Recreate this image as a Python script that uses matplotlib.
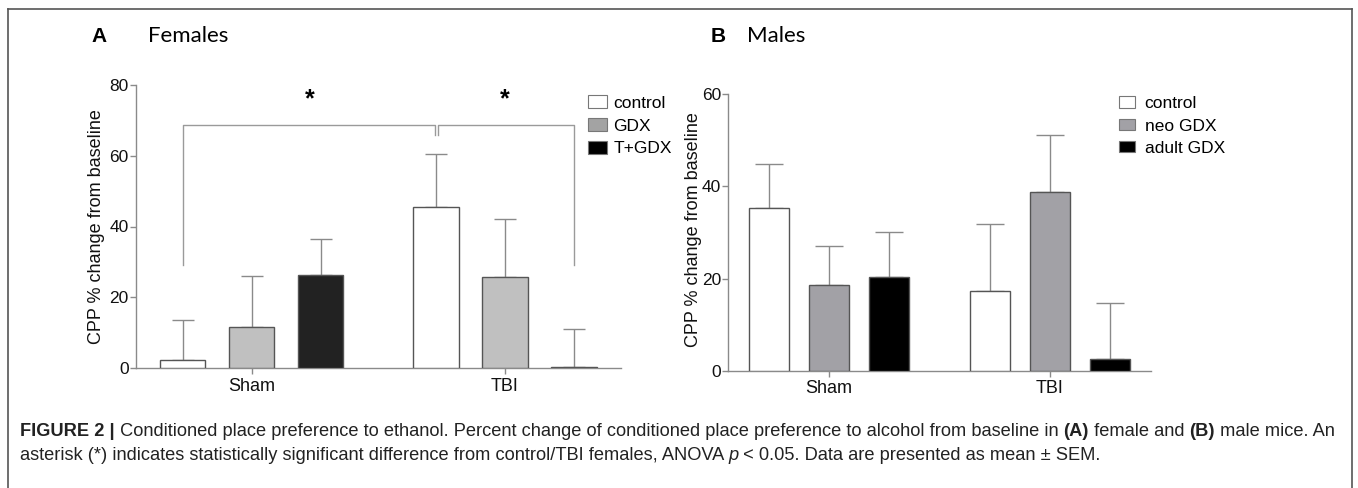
import numpy as np
import matplotlib
matplotlib.use('Agg')
import matplotlib.pyplot as plt
from matplotlib.patches import Patch
from matplotlib.lines import Line2D

plt.rcParams['font.family'] = ['Liberation Sans', 'DejaVu Sans']

# ---------------------------------------------------------------- data
groups = ['Sham', 'TBI']

fem_names = ['control', 'GDX', 'T+GDX']
fem_mean  = [[2.4, 45.6], [11.7, 25.6], [26.2, 0.2]]
fem_sem   = [[11.1, 14.9], [14.3, 16.4], [10.4, 10.9]]

mal_names = ['control', 'neo GDX', 'adult GDX']
mal_mean  = [[35.4, 17.2], [18.7, 38.7], [20.3, 2.5]]
mal_sem   = [[9.4, 14.6], [8.3, 12.4], [9.9, 12.1]]

fem_bar_col = ['white', '#c0c0c0', '#222222']
fem_leg_col = ['white', '#a3a3a3', '#000000']
mal_bar_col = ['white', '#a2a1a6', '#000000']

GAP   = 3.67
WIDTH = 0.66
AXCOL = '#8a8a8a'

# ---------------------------------------------------------------- figure
fig01 = plt.figure(figsize=(13.58, 4.88), dpi=100)

def px(x, y):
  return x/1358.0, 1.0 - y/488.0

def style_ax(ax, ymax):
  for s in ['top', 'right']:
    ax.spines[s].set_visible(False)
  for s in ['left', 'bottom']:
    ax.spines[s].set_color(AXCOL)
    ax.spines[s].set_linewidth(1.0)
  ax.set_xlim(-0.68, 6.35)
  ax.set_ylim(0, ymax)
  ax.set_yticks(np.arange(0, ymax+1, 20))
  ax.set_xticks([1, 1+GAP])
  ax.set_xticklabels(groups, fontsize=13)
  ax.tick_params(axis='y', colors=AXCOL, labelcolor='#111111', labelsize=12.5,
                 length=4, width=1, pad=1)
  ax.tick_params(axis='x', colors=AXCOL, labelcolor='#111111',
                 length=4, width=1, pad=3)
  ax.set_ylabel('CPP % change from baseline', fontsize=13, color='#111111')

def draw_bars(ax, means, sems, cols, capsz):
  for k in range(3):
    xpos = np.array([k, k+GAP])
    ax.bar(xpos, means[k], width=WIDTH, color=cols[k], edgecolor='#555555',
           linewidth=1.0, zorder=3)
    ax.errorbar(xpos, means[k], yerr=[np.zeros(2), sems[k]], fmt='none',
                ecolor='#8a8a8a', elinewidth=1.0, capsize=capsz,
                capthick=1.0, zorder=2)

# Panel A
l, b = px(135.7, 368)
r, t = px(621, 85)
axs01 = fig01.add_axes([l, b, r-l, t-b])
draw_bars(axs01, fem_mean, fem_sem, fem_bar_col, 8)
style_ax(axs01, 80)
axs01.yaxis.set_label_coords(-0.064, 0.50)

# significance brackets
ybr, yleg, ymid = 68.8, 29.1, 66.0
xl, xm, xr = 0.0, GAP, 2+GAP
axs01.plot([xl, xl, xm-0.02, xm-0.02], [yleg, ybr, ybr, ymid],
           color='#9a9a9a', lw=1.0, clip_on=False)
axs01.plot([xm+0.03, xm+0.03, xr, xr], [ymid, ybr, ybr, yleg],
           color='#9a9a9a', lw=1.0, clip_on=False)
axs01.text((xl+xm)/2, 76.0, '*', ha='center', va='center', fontsize=18,
           fontweight='bold')
axs01.text((xm+xr)/2, 76.0, '*', ha='center', va='center', fontsize=18,
           fontweight='bold')

hnd = [Patch(facecolor=fem_leg_col[k], edgecolor='#777777', lw=0.8,
             label=fem_names[k]) for k in range(3)]
axs01.legend(handles=hnd, loc='upper left', bbox_to_anchor=(0.931, 0.963),
             frameon=False, fontsize=12.5, handlelength=1.1, handleheight=0.75,
             handletextpad=0.38, labelspacing=0.42, borderaxespad=0,
             borderpad=0)

# Panel B
l, b = px(728, 370.7)
r, t = px(1151, 94.3)
axs02 = fig01.add_axes([l, b, r-l, t-b])
draw_bars(axs02, mal_mean, mal_sem, mal_bar_col, 10)
style_ax(axs02, 60)
axs02.yaxis.set_label_coords(-0.062, 0.51)

hnd = [Patch(facecolor=(fem_leg_col[0] if k == 0 else mal_bar_col[k]),
             edgecolor='#777777', lw=0.8, label=mal_names[k]) for k in range(3)]
axs02.legend(handles=hnd, loc='upper left', bbox_to_anchor=(0.924, 0.993),
             frameon=False, fontsize=12.5, handlelength=0.92, handleheight=0.63,
             handletextpad=0.57, labelspacing=0.42, borderaxespad=0,
             borderpad=0)

# Panel titles
fig01.text(*px(99, 37), 'A', fontsize=15, fontweight='bold', ha='center',
           va='center')
fig01.text(*px(148, 36), 'Females', fontsize=16, family=['Lato', 'DejaVu Sans'],
           ha='left', va='center')
fig01.text(*px(718, 37), 'B', fontsize=15, fontweight='bold', ha='center',
           va='center')
fig01.text(*px(747, 36), 'Males', fontsize=16, family=['Lato', 'DejaVu Sans'],
           ha='left', va='center')

# Frame
for xs, ys in [([8, 8], [488, 9]), ([8, 1352], [9, 9]), ([1352, 1352], [9, 488])]:
  p0 = px(xs[0], ys[0]); p1 = px(xs[1], ys[1])
  fig01.add_artist(Line2D([p0[0], p1[0]], [p0[1], p1[1]], color='#555555',
                          lw=1.2, transform=fig01.transFigure))

# Caption, pieced together so that bold/italic parts stay inline
cap_lines = [
  [('FIGURE 2 |', 'bold', 'normal'),
   (' Conditioned place preference to ethanol. Percent change of conditioned '
    'place preference to alcohol from baseline in ', 'normal', 'normal'),
   ('(A)', 'bold', 'normal'), (' female and ', 'normal', 'normal'),
   ('(B)', 'bold', 'normal'), (' male mice. An', 'normal', 'normal')],
  [('asterisk (*) indicates statistically significant difference from '
    'control/TBI females, ANOVA ', 'normal', 'normal'),
   ('p', 'normal', 'italic'),
   (' < 0.05. Data are presented as mean \u00b1 SEM.', 'normal', 'normal')],
]
rend = fig01.canvas.get_renderer()
for ln, ypix in zip(cap_lines, [431, 455]):
  xpix = 20.0
  for txt, wt, st in ln:
    tt = fig01.text(*px(xpix, ypix), txt, fontsize=13.15, fontweight=wt,
                    fontstyle=st, color='#222222', ha='left', va='center')
    xpix += tt.get_window_extent(renderer=rend).width

plt.savefig('out.png', dpi=100)
plt.close()
